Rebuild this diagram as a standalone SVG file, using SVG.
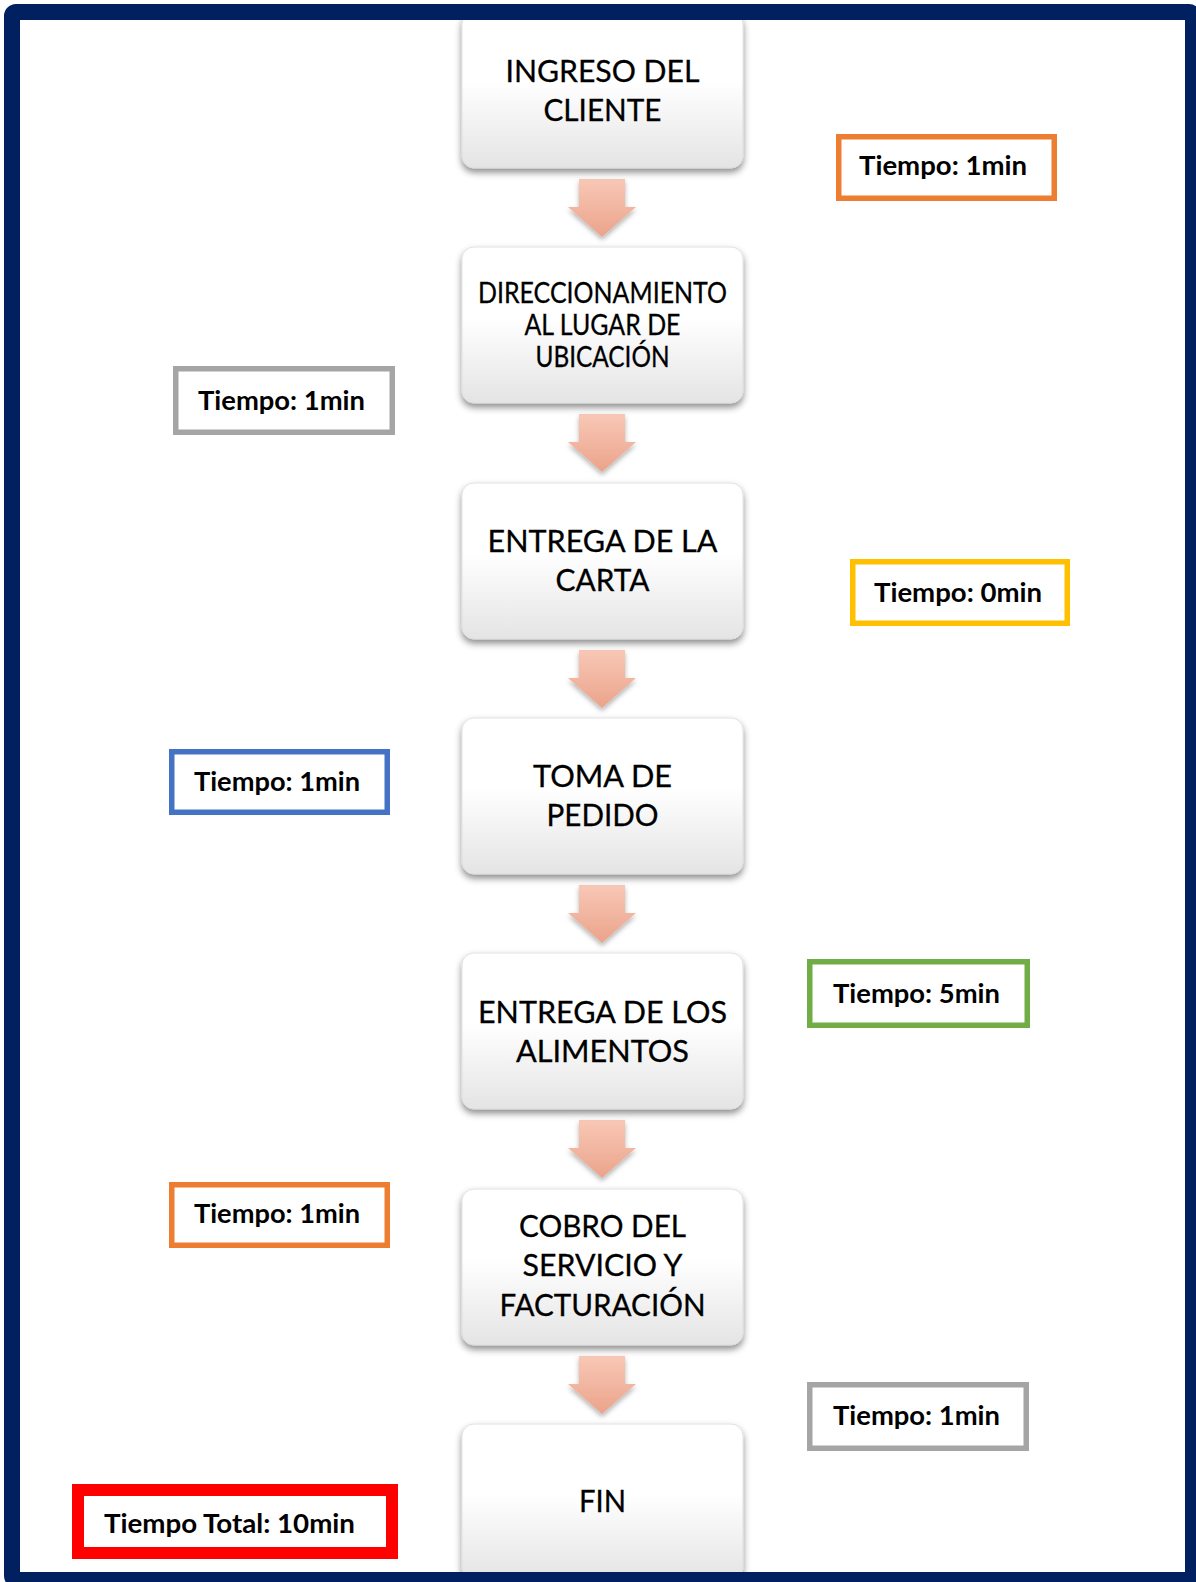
<svg xmlns="http://www.w3.org/2000/svg" width="1196" height="1582" viewBox="0 0 1196 1582">
<defs>
  <linearGradient id="boxGrad" x1="0" y1="0" x2="0" y2="1">
    <stop offset="0" stop-color="#FFFFFF"/>
    <stop offset="0.45" stop-color="#FFFFFF"/>
    <stop offset="1" stop-color="#E4E4E4"/>
  </linearGradient>
  <linearGradient id="arrGrad" x1="0" y1="0" x2="0" y2="1">
    <stop offset="0" stop-color="#F8C8B6"/>
    <stop offset="1" stop-color="#EBA38B"/>
  </linearGradient>
  <filter id="shadow" x="-10%" y="-10%" width="120%" height="130%">
    <feDropShadow dx="0" dy="4" stdDeviation="3.5" flood-color="#000" flood-opacity="0.45"/>
  </filter>
  <filter id="ashadow" x="-20%" y="-20%" width="140%" height="150%">
    <feDropShadow dx="0" dy="3" stdDeviation="2.5" flood-color="#000" flood-opacity="0.3"/>
  </filter>
  <path id="arrow" d="M579,0 H625 V28 H636 L602,58 L568,28 H579 Z"/>
</defs>
<style>
  .box { fill: url(#boxGrad); stroke: #DADADA; stroke-width: 0.8; filter: url(#shadow); }
  .bt { font-family: Lato, "Liberation Sans", sans-serif; font-size: 31px; fill: #000; text-anchor: middle; stroke: #000; stroke-width: 0.3; }
  .bt2 { font-family: Lato, "Liberation Sans", sans-serif; font-size: 28px; fill: #000; text-anchor: middle; stroke: #000; stroke-width: 0.3; }
  .lab { fill: #FFFFFF; stroke-width: 5.5; }
  .lt { font-family: Lato, "Liberation Sans", sans-serif; font-size: 26px; font-weight: bold; fill: #000; }
  .arr { fill: url(#arrGrad); filter: url(#ashadow); }
</style>
<rect x="0" y="0" width="1196" height="1582" fill="#FFFFFF"/>

<g id="connectors">
  <use href="#arrow" class="arr" transform="translate(0,179)"/>
  <use href="#arrow" class="arr" transform="translate(0,414)"/>
  <use href="#arrow" class="arr" transform="translate(0,650)"/>
  <use href="#arrow" class="arr" transform="translate(0,885)"/>
  <use href="#arrow" class="arr" transform="translate(0,1120)"/>
  <use href="#arrow" class="arr" transform="translate(0,1356)"/>
</g>

<g id="n1">
  <rect class="box" x="462" y="12" width="281" height="156" rx="12"/>
  <text class="bt" x="602.5" y="82" textLength="194" lengthAdjust="spacingAndGlyphs">INGRESO DEL</text>
  <text class="bt" x="602.5" y="121" textLength="118" lengthAdjust="spacingAndGlyphs">CLIENTE</text>
</g>
<g id="n2">
  <rect class="box" x="462" y="247" width="281" height="156" rx="12"/>
  <text class="bt2" x="602.5" y="303" textLength="249" lengthAdjust="spacingAndGlyphs">DIRECCIONAMIENTO</text>
  <text class="bt2" x="602.5" y="335" textLength="156" lengthAdjust="spacingAndGlyphs">AL LUGAR DE</text>
  <text class="bt2" x="602.5" y="367" textLength="134" lengthAdjust="spacingAndGlyphs">UBICACIÓN</text>
</g>
<g id="n3">
  <rect class="box" x="462" y="483" width="281" height="156" rx="12"/>
  <text class="bt" x="602.5" y="552" textLength="230" lengthAdjust="spacingAndGlyphs">ENTREGA DE LA</text>
  <text class="bt" x="602.5" y="591" textLength="94" lengthAdjust="spacingAndGlyphs">CARTA</text>
</g>
<g id="n4">
  <rect class="box" x="462" y="718" width="281" height="156" rx="12"/>
  <text class="bt" x="602.5" y="787" textLength="139" lengthAdjust="spacingAndGlyphs">TOMA DE</text>
  <text class="bt" x="602.5" y="826" textLength="112" lengthAdjust="spacingAndGlyphs">PEDIDO</text>
</g>
<g id="n5">
  <rect class="box" x="462" y="953" width="281" height="156" rx="12"/>
  <text class="bt" x="602.5" y="1023" textLength="249" lengthAdjust="spacingAndGlyphs">ENTREGA DE LOS</text>
  <text class="bt" x="602.5" y="1062" textLength="173" lengthAdjust="spacingAndGlyphs">ALIMENTOS</text>
</g>
<g id="n6">
  <rect class="box" x="462" y="1189" width="281" height="156" rx="12"/>
  <text class="bt" x="602.5" y="1237" textLength="167" lengthAdjust="spacingAndGlyphs">COBRO DEL</text>
  <text class="bt" x="602.5" y="1276" textLength="160" lengthAdjust="spacingAndGlyphs">SERVICIO Y</text>
  <text class="bt" x="602.5" y="1316" textLength="206" lengthAdjust="spacingAndGlyphs">FACTURACIÓN</text>
</g>
<g id="n7">
  <rect class="box" x="462" y="1424" width="281" height="156" rx="12"/>
  <text class="bt" x="602.5" y="1512" textLength="47" lengthAdjust="spacingAndGlyphs">FIN</text>
</g>

<g id="t1">
  <rect class="lab" x="838.75" y="136.75" width="215.5" height="61.5" stroke="#ED7D31"/>
  <text class="lt" x="859" y="175" textLength="168" lengthAdjust="spacingAndGlyphs">Tiempo: 1min</text>
</g>
<g id="t2">
  <rect class="lab" x="175.75" y="368.75" width="216.5" height="63.5" stroke="#A5A5A5"/>
  <text class="lt" x="198" y="410" textLength="167" lengthAdjust="spacingAndGlyphs">Tiempo: 1min</text>
</g>
<g id="t3">
  <rect class="lab" x="852.75" y="561.75" width="214.5" height="61.5" stroke="#FFC000"/>
  <text class="lt" x="874" y="602" textLength="168" lengthAdjust="spacingAndGlyphs">Tiempo: 0min</text>
</g>
<g id="t4">
  <rect class="lab" x="171.75" y="751.75" width="215.5" height="60.5" stroke="#4472C4"/>
  <text class="lt" x="194" y="791" textLength="166" lengthAdjust="spacingAndGlyphs">Tiempo: 1min</text>
</g>
<g id="t5">
  <rect class="lab" x="809.75" y="961.75" width="217.5" height="63.5" stroke="#70AD47"/>
  <text class="lt" x="833" y="1003" textLength="167" lengthAdjust="spacingAndGlyphs">Tiempo: 5min</text>
</g>
<g id="t6">
  <rect class="lab" x="171.75" y="1184.75" width="215.5" height="60.5" stroke="#ED7D31"/>
  <text class="lt" x="194" y="1223" textLength="166" lengthAdjust="spacingAndGlyphs">Tiempo: 1min</text>
</g>
<g id="t7">
  <rect class="lab" x="809.75" y="1384.75" width="216.5" height="63.5" stroke="#A5A5A5"/>
  <text class="lt" x="833" y="1425" textLength="167" lengthAdjust="spacingAndGlyphs">Tiempo: 1min</text>
</g>
<g id="total">
  <rect x="78" y="1490" width="314" height="63" fill="#FFFFFF" stroke="#FF0000" stroke-width="12"/>
  <text class="lt" x="104" y="1533" textLength="251" lengthAdjust="spacingAndGlyphs">Tiempo Total: 10min</text>
</g>

<rect id="frame" x="12" y="12" width="1181" height="1568" rx="4" fill="none" stroke="#002060" stroke-width="16"/>
</svg>
